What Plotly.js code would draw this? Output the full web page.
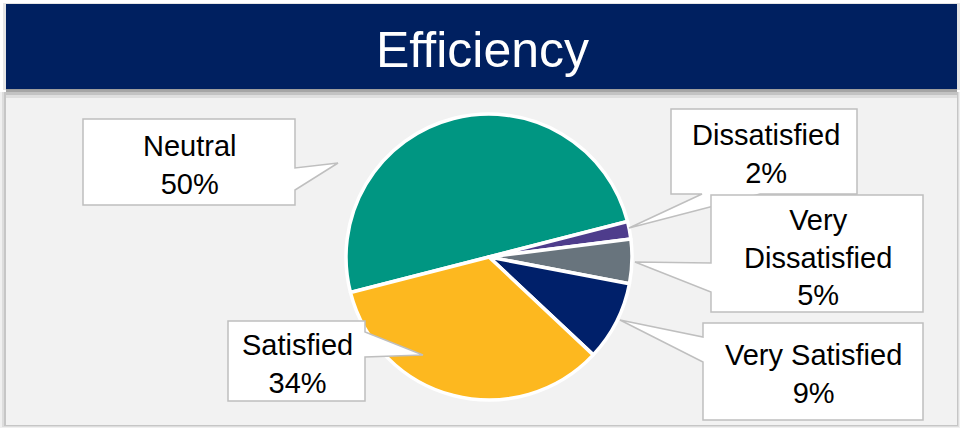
<!DOCTYPE html>
<html>
<head>
<meta charset="utf-8">
<script src="https://cdn.plot.ly/plotly-3.0.1.min.js"></script>
<style>
  html, body { margin: 0; padding: 0; background: #ffffff; }
  #chart { width: 960px; height: 428px; }
</style>
</head>
<body>
<div id="chart"></div>
<script>
// ---- data ----
const chartTitle = "Efficiency";
const labels = ["Neutral", "Dissatisfied", "Very Dissatisfied", "Very Satisfied", "Satisfied"];
const values = [50, 2, 5, 9, 34];
const colors = ["#009682", "#4E3C8C", "#68747D", "#00206A", "#FDB81F"];

// ---- layout helpers (pixel -> paper) ----
const W = 960, H = 428;
const px = x => x / W;
const py = y => 1 - y / H;
function pathFrom(points) {
  return "M" + points.map(p => px(p[0]).toFixed(5) + "," + py(p[1]).toFixed(5)).join(" L") + " Z";
}

// callout geometry (pixels), one per slice in the order above
const callouts = [
  { box: [[83,119],[295,119],[295,168],[338,163],[295,190],[295,205],[83,205]], tx: 190, ty: 165, wrap: false },
  { box: [[671,109],[857,109],[857,194],[760,194],[629,228],[702,194],[671,194]], tx: 766, ty: 154, wrap: false },
  { box: [[711,195],[923,195],[923,312],[711,312],[711,292],[635,262],[711,263],[711,195]], tx: 818, ty: 257, wrap: true },
  { box: [[703,323],[923,323],[923,420],[703,420],[703,362],[620,320],[703,337]], tx: 813, ty: 374, wrap: false },
  { box: [[228,321],[365,321],[365,332],[423,355],[365,357],[365,401],[228,401]], tx: 297, ty: 364, wrap: false }
];

const shapes = [
  // panel shadow
  { type: "rect", xref: "paper", yref: "paper", layer: "below", x0: px(0), x1: px(960), y0: py(428), y1: py(92),
    fillcolor: "rgba(0,0,0,0.06)", line: { width: 0 } },
  { type: "rect", xref: "paper", yref: "paper", layer: "below", x0: px(2), x1: px(959), y0: py(427), y1: py(92),
    fillcolor: "rgba(0,0,0,0.08)", line: { width: 0 } },
  { type: "rect", xref: "paper", yref: "paper", layer: "below", x0: px(4), x1: px(958), y0: py(426), y1: py(92),
    fillcolor: "rgba(0,0,0,0.10)", line: { width: 0 } },
  // panel
  { type: "rect", xref: "paper", yref: "paper", layer: "below", x0: px(6), x1: px(957), y0: py(425), y1: py(90),
    fillcolor: "#F2F2F2", line: { width: 0 } },
  // title bar shadow
  { type: "rect", xref: "paper", yref: "paper", layer: "below", x0: px(6), x1: px(957), y0: py(98), y1: py(88),
    fillcolor: "rgba(0,0,0,0.08)", line: { width: 0 } },
  { type: "rect", xref: "paper", yref: "paper", layer: "below", x0: px(6), x1: px(957), y0: py(95), y1: py(88),
    fillcolor: "rgba(0,0,0,0.12)", line: { width: 0 } },
  { type: "rect", xref: "paper", yref: "paper", layer: "below", x0: px(6), x1: px(957), y0: py(92), y1: py(88),
    fillcolor: "rgba(0,0,0,0.15)", line: { width: 0 } },
  { type: "rect", xref: "paper", yref: "paper", layer: "below", x0: px(3), x1: px(960), y0: py(90), y1: py(3),
    fillcolor: "rgba(0,0,0,0.10)", line: { width: 0 } },
  // title bar
  { type: "rect", xref: "paper", yref: "paper", layer: "below", x0: px(6), x1: px(957), y0: py(89), y1: py(4),
    fillcolor: "#002060", line: { width: 0 } }
];

const annotations = [
  { text: chartTitle, xref: "paper", yref: "paper", x: px(482), y: py(50), xanchor: "center", yanchor: "middle",
    showarrow: false, font: { family: "Liberation Sans, Arial, sans-serif", size: 50, color: "#FFFFFF" } }
];

callouts.forEach((c, i) => {
  shapes.push({ type: "path", xref: "paper", yref: "paper", layer: "above", path: pathFrom(c.box),
    fillcolor: "#FFFFFF", line: { color: "#BFBFBF", width: 1.5 } });
  const name = c.wrap ? labels[i].replace(" ", "<br>") : labels[i];
  annotations.push({ text: name + "<br>" + values[i] + "%", xref: "paper", yref: "paper",
    x: px(c.tx), y: py(c.ty), xanchor: "center", yanchor: "middle", align: "center", showarrow: false,
    font: { family: "Liberation Sans, Arial, sans-serif", size: 29, color: "#000000" } });
});

const cx = 489, cy = 257, r = 143;
const trace = {
  type: "pie",
  values: values,
  labels: labels,
  sort: false,
  direction: "clockwise",
  rotation: -104.4,
  textinfo: "none",
  hoverinfo: "none",
  showlegend: false,
  marker: { colors: colors, line: { color: "#FFFFFF", width: 3.5 } },
  domain: { x: [px(cx - r), px(cx + r)], y: [py(cy + r), py(cy - r)] }
};

const layout = {
  width: W, height: H,
  margin: { l: 0, r: 0, t: 0, b: 0 },
  paper_bgcolor: "#FFFFFF",
  plot_bgcolor: "#FFFFFF",
  showlegend: false,
  shapes: shapes,
  annotations: annotations
};

Plotly.newPlot("chart", [trace], layout, { displayModeBar: false, staticPlot: true });
</script>
</body>
</html>
